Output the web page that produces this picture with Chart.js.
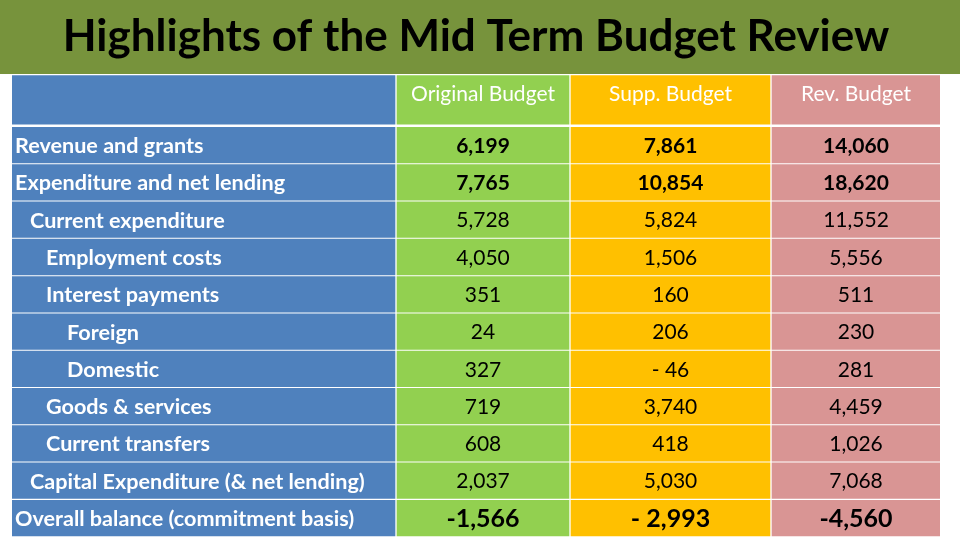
<!DOCTYPE html>
<html>
<head>
<meta charset="utf-8">
<script src="https://cdn.jsdelivr.net/npm/chart.js@4.4.1/dist/chart.umd.min.js"></script>
<style>
  html, body { margin: 0; padding: 0; background: #fff; }
  canvas { display: block; }
</style>
</head>
<body>
<canvas id="budgetTable" width="960" height="540"></canvas>
<script>
// table data
const rowLabels = [
    'Revenue and grants',
    'Expenditure and net lending',
    'Current expenditure',
    'Employment costs',
    'Interest payments',
    'Foreign',
    'Domestic',
    'Goods & services',
    'Current transfers',
    'Capital Expenditure (& net lending)',
    'Overall balance (commitment basis)'
];
const rowLevel = [0, 0, 1, 2, 2, 3, 3, 2, 2, 1, 0];
const columnLabels = ['Original Budget', 'Supp. Budget', 'Rev. Budget'];
const originalBudget = [6199, 7765, 5728, 4050, 351, 24, 327, 719, 608, 2037, -1566];
const suppBudget = [7861, 10854, 5824, 1506, 160, 206, -46, 3740, 418, 5030, -2993];
const revBudget = [14060, 18620, 11552, 5556, 511, 230, 281, 4459, 1026, 7068, -4560];

// layout (pixel units on both linear scales)
const colEdges = [0, 385, 559, 760, 930];
const colColors = ['#4F81BD', '#92D050', '#FFC000', '#D99594'];
const headerHeight = 49;
const rowStart = 70;
const rowPitch = 37.3;
const rowThickness = 35.6;
const indentPx = [3, 18, 34, 55];
const boldRows = [0, 1, 10];

const rowCenter = i => rowStart + i * rowPitch;
const columnValues = [null, originalBudget, suppBudget, revBudget];

function formatValue(v, col) {
    let s = v.toLocaleString('en-US');
    if (col === 2 && v < 0) s = s.replace('-', '- ');
    return s;
}

const datasets = [];
colColors.forEach((color, c) => {
    const range = [colEdges[c], colEdges[c + 1] - 2];
    datasets.push({
        label: 'header ' + c,
        data: [{ y: headerHeight / 2, x: range }],
        backgroundColor: color,
        barThickness: headerHeight,
        grouped: false
    });
    datasets.push({
        label: 'body ' + c,
        data: rowLabels.map((_, i) => ({ y: rowCenter(i), x: range })),
        backgroundColor: color,
        barThickness: rowThickness,
        grouped: false
    });
});

const tableText = {
    id: 'tableText',
    beforeDraw(chart) {
        const ctx = chart.ctx;
        ctx.save();
        ctx.fillStyle = '#ffffff';
        ctx.fillRect(0, 0, chart.width, chart.height);
        ctx.fillStyle = '#77933C';
        ctx.fillRect(0, 0, chart.width, 74);
        ctx.restore();
    },
    afterDatasetsDraw(chart) {
        const ctx = chart.ctx;
        const xs = chart.scales.x;
        const ys = chart.scales.y;
        ctx.save();
        ctx.textBaseline = 'middle';

        // column headers
        ctx.fillStyle = '#ffffff';
        ctx.textAlign = 'center';
        ctx.font = '21px Lato';
        columnLabels.forEach((label, k) => {
            const c = k + 1;
            const cx = xs.getPixelForValue((colEdges[c] + colEdges[c + 1] - 2) / 2);
            ctx.fillText(label, cx, ys.getPixelForValue(19));
        });

        rowLabels.forEach((label, i) => {
            const cy = ys.getPixelForValue(rowCenter(i)) + 1;
            const bold = boldRows.includes(i);
            ctx.fillStyle = '#ffffff';
            ctx.textAlign = 'left';
            ctx.font = 'bold 21.6px Lato';
            ctx.fillText(label, xs.getPixelForValue(0) + indentPx[rowLevel[i]], cy);

            ctx.fillStyle = '#000000';
            ctx.textAlign = 'center';
            if (i === rowLabels.length - 1) ctx.font = 'bold 25px Lato';
            else ctx.font = (bold ? 'bold ' : '') + '21px Lato';
            for (let c = 1; c < 4; c++) {
                const cx = xs.getPixelForValue((colEdges[c] + colEdges[c + 1] - 2) / 2);
                ctx.fillText(formatValue(columnValues[c][i], c), cx, cy);
            }
        });
        ctx.restore();
    }
};

const chart = new Chart(document.getElementById('budgetTable'), {
    type: 'bar',
    data: { datasets: datasets },
    options: {
        indexAxis: 'y',
        responsive: false,
        animation: false,
        events: [],
        layout: { padding: { left: 12, right: 20, top: 0, bottom: 1 } },
        plugins: {
            legend: { display: false },
            tooltip: { enabled: false },
            title: {
                display: true,
                text: 'Highlights of the Mid Term Budget Review',
                color: '#000000',
                font: { family: 'Lato', size: 44, weight: 'bold', lineHeight: 1.14 },
                padding: { top: 12, bottom: 13 }
            }
        },
        scales: {
            x: { type: 'linear', min: 0, max: 928, offset: false, display: false },
            y: { type: 'linear', min: 0, max: 464, reverse: true, offset: false, display: false }
        }
    },
    plugins: [tableText]
});
</script>
</body>
</html>
